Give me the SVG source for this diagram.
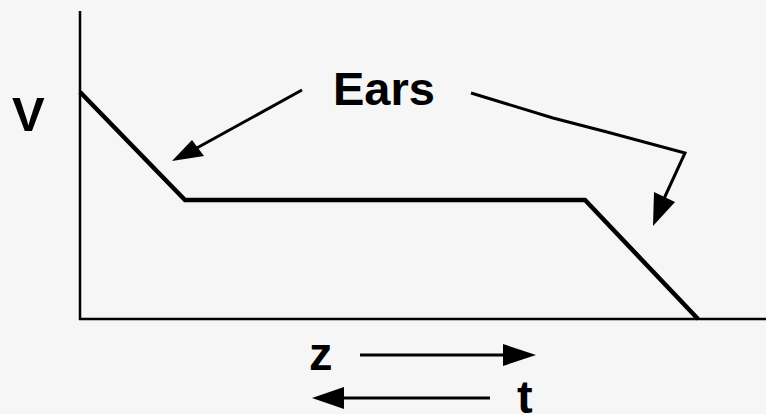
<svg xmlns="http://www.w3.org/2000/svg" width="766" height="414" viewBox="0 0 766 414">
<style>
.lbl{font-family:"Liberation Sans",Arial,sans-serif;font-weight:bold;font-size:47px;fill:#000}
.axis{stroke:#000;stroke-width:2.5;fill:none}
.curve{stroke:#000;stroke-width:4.5;fill:none;stroke-linejoin:miter}
.arr{stroke:#000;stroke-width:3;fill:none}
.head{fill:#000}
</style>
<rect width="766" height="414" fill="#f6f6f6"/>
<g id="axes">
<line class="axis" x1="80" y1="11" x2="80" y2="320"/>
<line class="axis" x1="79" y1="319" x2="766" y2="319"/>
</g>
<g id="curve">
<polyline class="curve" points="80,92 185,200 585,200 698,319"/>
</g>
<g id="labels">
<text id="V" class="lbl" x="12" y="131" style="font-size:49px">V</text>
<text id="Ears" class="lbl" x="333" y="105">Ears</text>
<text id="z" class="lbl" x="309" y="370">z</text>
<text id="t" class="lbl" x="517" y="413">t</text>
</g>
<g id="connectors">
<line class="arr" x1="302" y1="90" x2="195" y2="149"/>
<polygon class="head" points="172,161 192,140 204,156"/>
<polyline class="arr" points="471,93 553,118 607,132 685,153 662,203"/>
<polygon class="head" points="653,226 654,192 675,202"/>
<line class="arr" x1="360" y1="355" x2="505" y2="355"/>
<polygon class="head" points="536,355 503,344 503,366"/>
<line class="arr" x1="490" y1="398" x2="340" y2="398"/>
<polygon class="head" points="312,398 344,387 344,409"/>
</g>
</svg>
